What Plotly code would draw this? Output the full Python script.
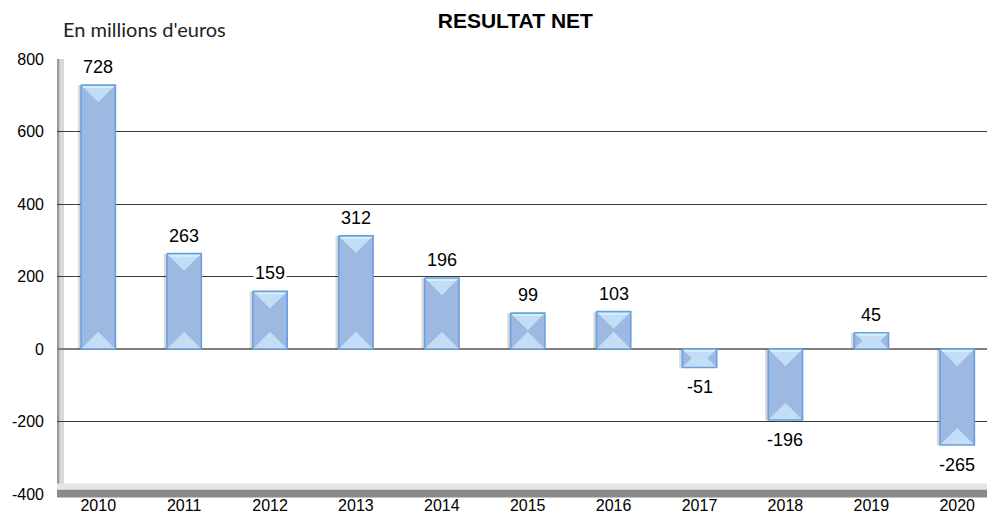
import plotly.graph_objects as go

years = ["2010", "2011", "2012", "2013", "2014", "2015", "2016", "2017", "2018", "2019", "2020"]
resultat = [728, 263, 159, 312, 196, 99, 103, -51, -196, 45, -265]
y_ticks = [-400, -200, 0, 200, 400, 600, 800]

# pixel scale of the plot area (used for the bevel look of the bars)
px_x = 85.9   # px per category
px_y = 0.3625  # px per unit
half_w = 0.2

xs = list(range(len(years)))

bev_x, bev_y = [], []
out_x, out_y = [], []
top_x, top_y = [], []
for i, v in zip(xs, resultat):
    x0, x1 = i - half_w, i + half_w
    top, bot = max(v, 0), min(v, 0)
    h_px = (top - bot) * px_y
    b_px = min(half_w * px_x, h_px / 2)
    bx, by = b_px / px_x, b_px / px_y
    bev_x += [x0, x1, x1 - bx, x0 + bx, x0, None]
    bev_y += [top, top, top - by, top - by, top, None]
    bev_x += [x0, x1, x1 - bx, x0 + bx, x0, None]
    bev_y += [bot, bot, bot + by, bot + by, bot, None]
    s = 3 / px_y
    top_x += [x0, x1, x1 - 3 / px_x, x0 + 3 / px_x, x0, None]
    top_y += [top, top, top - s, top - s, top, None]
    out_x += [x0, x1, x1, x0, x0, None]
    out_y += [top, top, bot, bot, top, None]

fig = go.Figure()

# soft shadow
fig.add_trace(go.Bar(x=xs, y=resultat, width=0.4, offset=-0.237,
                     marker=dict(color="rgba(0,0,0,0.15)", line=dict(width=0)),
                     hoverinfo="skip"))
fig.add_trace(go.Bar(x=xs, y=resultat, width=0.4,
                     marker=dict(color="#9DB9E1", line=dict(width=0))))
fig.add_trace(go.Scatter(x=bev_x, y=bev_y, mode="lines", fill="toself",
                         fillcolor="#C3DDF6", line=dict(width=0), hoverinfo="skip"))
fig.add_trace(go.Scatter(x=top_x, y=top_y, mode="lines", fill="toself",
                         fillcolor="#D2F1FB", line=dict(width=0), hoverinfo="skip"))
fig.add_trace(go.Scatter(x=out_x, y=out_y, mode="lines",
                         line=dict(color="#6A9FDF", width=1.6), hoverinfo="skip"))

for i, v in zip(xs, resultat):
    fig.add_annotation(x=i, y=v, text=str(v), showarrow=False,
                       yshift=18 if v >= 0 else -20,
                       font=dict(family="Liberation Sans, Arial", size=18, color="#000000"),
                       bgcolor="white", borderpad=1)

fig.add_annotation(xref="paper", yref="paper", x=0.004, y=1.069, xanchor="left", yanchor="middle",
                   text="En millions d'euros", showarrow=False,
                   font=dict(family="Lato, Open Sans", size=20, color="#222222"))

# 3D wall and floor look
fig.add_shape(type="rect", xref="paper", yref="paper", x0=0, x1=0.0075, y0=0, y1=1,
              fillcolor="#D9D9D9", line=dict(width=0), layer="below")
fig.add_shape(type="rect", xref="paper", yref="paper", x0=0, x1=0.0025, y0=0, y1=1,
              fillcolor="#9A9A9A", line=dict(width=0), layer="below")
fig.add_shape(type="rect", xref="paper", yref="paper", x0=0, x1=1, y0=-0.005, y1=0.024,
              fillcolor="#E6E6E6", line=dict(width=0), layer="above")
fig.add_shape(type="rect", xref="paper", yref="paper", x0=0, x1=1, y0=-0.008, y1=0.01,
              fillcolor="#8A8A8A", line=dict(width=0), layer="above")

# the page body adds an 8px offset, so the figure is sized to fill the window from there
fig.update_layout(
    width=987, height=514,
    margin=dict(l=49, r=0, t=51, b=28),
    paper_bgcolor="white", plot_bgcolor="white",
    barmode="overlay", showlegend=False,
    title=dict(text="<b>RESULTAT NET</b>", x=0.514, xanchor="center", y=0.976, yanchor="middle",
               font=dict(family="Liberation Sans, Arial", size=21, color="#000000")),
    font=dict(family="Liberation Sans, Arial", size=16, color="#000000"),
)
fig.update_xaxes(range=[-0.48, 10.44], tickvals=xs, ticktext=years, showgrid=False,
                 zeroline=False, showline=False, ticks="", tickfont=dict(size=16))
fig.update_yaxes(range=[-400, 800], tickvals=y_ticks, ticktext=[str(t) for t in y_ticks],
                 showgrid=True, gridcolor="#3A3A3A",
                 gridwidth=1, zeroline=True, zerolinecolor="#808080", zerolinewidth=1.5,
                 showline=False, ticks="", ticklabelstandoff=12, tickfont=dict(size=16))

fig.write_html("out.html")
